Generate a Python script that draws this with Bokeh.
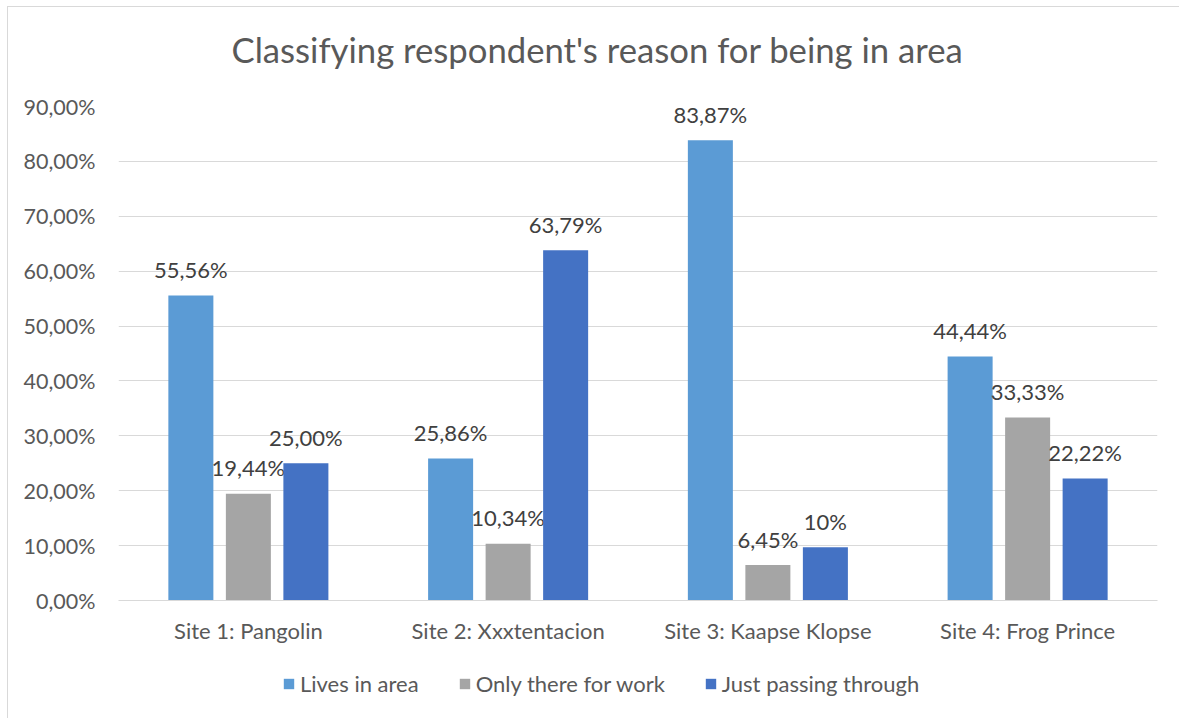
from bokeh.plotting import figure
from bokeh.models import (ColumnDataSource, FixedTicker, Label, Legend, LegendItem,
                          FactorRange)
from bokeh.layouts import column
from bokeh.transform import dodge
from bokeh.embed import file_html
from bokeh.resources import INLINE
from bokeh.core.properties import value

# ---------------- data ----------------
sites = ["Site 1: Pangolin", "Site 2: Xxxtentacion", "Site 3: Kaapse Klopse", "Site 4: Frog Prince"]
series_names = ["Lives in area", "Only there for work", "Just passing through"]
lives = [55.56, 25.86, 83.87, 44.44]
work = [19.44, 10.34, 6.45, 33.33]
passing = [25.00, 63.79, 9.68, 22.22]
lives_labels = ["55,56%", "25,86%", "83,87%", "44,44%"]
work_labels = ["19,44%", "10,34%", "6,45%", "33,33%"]
passing_labels = ["25,00%", "63,79%", "10%", "22,22%"]
y_ticks = [0, 10, 20, 30, 40, 50, 60, 70, 80, 90]
y_tick_labels = ["0,00%", "10,00%", "20,00%", "30,00%", "40,00%", "50,00%",
                 "60,00%", "70,00%", "80,00%", "90,00%"]
title_text = "Classifying respondent's reason for being in area"

colors = ["#5B9BD5", "#A5A5A5", "#4472C4"]
FONT = "Lato"
GRID = "#D9D9D9"
TEXT = "#595959"

src = ColumnDataSource(dict(site=sites, lives=lives, work=work, passing=passing,
                            lives_l=lives_labels, work_l=work_labels, passing_l=passing_labels))

LINE = "linear-gradient(#D9D9D9,#D9D9D9)"
bg_top = (f"{LINE} 7px 6px / calc(100% - 7px) 1px no-repeat, "
          f"{LINE} 7px 6px / 1px calc(100% - 6px) no-repeat, white")
bg_side = f"{LINE} 7px 0px / 1px 100% no-repeat, white"


def strip(height, bg, y_max):
    f = figure(width=1179, height=height, x_range=(0, 1), y_range=(0, y_max),
               output_backend="svg", toolbar_location=None, x_axis_location=None,
               y_axis_location=None, min_border=0, styles={"background": bg})
    f.outline_line_color = None
    f.grid.visible = False
    f.background_fill_color = None
    f.border_fill_color = None
    return f


# ---------------- title strip ----------------
p0 = strip(80, bg_top, 80)
p0.add_layout(Label(x=0.461, y=31, text=title_text, text_align="center",
                    text_baseline="alphabetic", text_font=FONT, text_font_size="34.7px",
                    text_color=TEXT))

# ---------------- main chart ----------------
p = figure(width=1179, height=570, x_range=FactorRange(*sites, range_padding=0),
           y_range=(0, 90), output_backend="svg", toolbar_location=None,
           min_border_left=118, min_border_right=22, min_border_top=26, min_border_bottom=50,
           styles={"background": bg_side})
p.outline_line_color = None
p.background_fill_color = "white"
p.border_fill_color = None

off = 0.2214
bw = 0.1733
cols = ["lives", "work", "passing"]
label_cols = ["lives_l", "work_l", "passing_l"]
for i, (c, lc) in enumerate(zip(cols, label_cols)):
    o = (i - 1) * off
    p.vbar(x=dodge("site", o, range=p.x_range), top=c, width=bw, source=src,
           fill_color=colors[i], line_color=None)
    p.text(x=dodge("site", o, range=p.x_range), y=c, text=lc, source=src,
           text_align="center", text_baseline="alphabetic", y_offset=-26,
           text_font=value(FONT), text_font_size="22px", text_color="#404040")

p.yaxis.ticker = FixedTicker(ticks=y_ticks)
p.yaxis.major_label_overrides = {t: l for t, l in zip(y_ticks, y_tick_labels)}
p.yaxis.axis_line_color = None
p.yaxis.major_tick_line_color = None
p.yaxis.minor_tick_line_color = None
p.yaxis.major_tick_out = 0
p.yaxis.major_tick_in = 0
p.yaxis.minor_tick_out = 0
p.yaxis.major_label_standoff = 23
p.yaxis.major_label_text_font = FONT
p.yaxis.major_label_text_font_size = "21.5px"
p.yaxis.major_label_text_color = TEXT

p.xaxis.axis_line_color = GRID
p.xaxis.major_tick_line_color = None
p.xaxis.minor_tick_line_color = None
p.xaxis.major_tick_out = 0
p.xaxis.major_tick_in = 0
p.xaxis.major_label_standoff = 16
p.xaxis.major_label_text_font = FONT
p.xaxis.major_label_text_font_size = "22px"
p.xaxis.major_label_text_color = TEXT

p.xgrid.grid_line_color = None
p.ygrid.grid_line_color = GRID
p.ygrid.grid_line_width = 1

# ---------------- legend strip ----------------
p2 = strip(68, bg_side, 1)
# legend keys: glyphs placed outside the visible range so only their legend swatches show
key_renderers = [p2.vbar(x=[-5], top=[-5], bottom=[-6], width=0.1, fill_color=colors[i],
                         line_color=None) for i in range(3)]
legend = Legend(items=[LegendItem(label=n, renderers=[r]) for n, r in zip(series_names, key_renderers)],
                orientation="horizontal", location=(164, 21), padding=0, margin=0,
                border_line_color=None, background_fill_alpha=0,
                glyph_width=13, glyph_height=13, label_standoff=5, spacing=39,
                label_text_font=FONT, label_text_font_size="22px", label_text_color=TEXT)
p2.add_layout(legend, "center")

layout = column(p0, p, p2, spacing=0)
open("out.html", "w").write(file_html(layout, INLINE))
